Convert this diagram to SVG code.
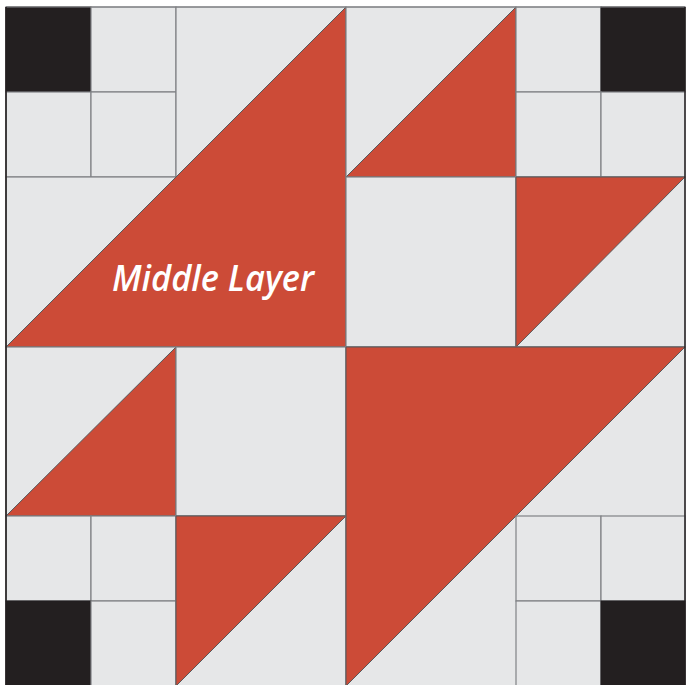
<svg xmlns="http://www.w3.org/2000/svg" width="686" height="685" viewBox="0 0 686 685">
<style>
.lt{fill:#e6e7e8;stroke:#808285;stroke-width:1.2}
.rd{fill:#cc4b37;stroke:#58595b;stroke-width:1}
.bk{fill:#231f20;stroke:#231f20;stroke-width:1}
.lbl{font-family:"Open Sans","DejaVu Sans",sans-serif;font-style:italic;font-weight:600;font-size:36px;fill:#ffffff}
</style>
<rect x="0" y="0" width="686" height="685" fill="#ffffff"/>
<g id="block-bg"><rect x="6" y="7" width="679" height="679" fill="#e6e7e8"/></g>
<g id="fourpatch-tl">
<rect class="bk" x="6" y="7" width="85" height="85"/>
<rect class="lt" x="91" y="7" width="85" height="85"/>
<rect class="lt" x="6" y="92" width="85" height="85"/>
<rect class="lt" x="91" y="92" width="85" height="85"/>
</g>
<g id="hst-top-left-light">
<rect class="lt" x="176" y="7" width="170" height="170"/>
<rect class="lt" x="6" y="177" width="170" height="170"/>
</g>
<g id="middle-layer">
<polygon class="rd" points="346,7 346,347 6,347"/>
<text class="lbl" x="112" y="291" textLength="202" lengthAdjust="spacingAndGlyphs">Middle Layer</text>
</g>
<g id="hst-top-right">
<rect class="lt" x="346" y="7" width="170" height="170"/>
<polygon class="rd" points="346,177 516,7 516,177"/>
</g>
<g id="fourpatch-tr">
<rect class="lt" x="516" y="7" width="85" height="85"/>
<rect class="bk" x="601" y="7" width="84" height="85"/>
<rect class="lt" x="516" y="92" width="85" height="85"/>
<rect class="lt" x="601" y="92" width="84" height="85"/>
</g>
<g id="square-center-right"><rect class="lt" x="346" y="177" width="170" height="170"/></g>
<g id="hst-right">
<rect class="lt" x="516" y="177" width="169" height="170"/>
<polygon class="rd" points="516,177 685,177 516,347"/>
</g>
<g id="hst-left">
<rect class="lt" x="6" y="347" width="170" height="169"/>
<polygon class="rd" points="6,516 176,347 176,516"/>
</g>
<g id="square-center-left"><rect class="lt" x="176" y="347" width="170" height="169"/></g>
<g id="fourpatch-bl">
<rect class="lt" x="6" y="516" width="85" height="85"/>
<rect class="lt" x="91" y="516" width="85" height="85"/>
<rect class="bk" x="6" y="601" width="85" height="85"/>
<rect class="lt" x="91" y="601" width="85" height="85"/>
</g>
<g id="hst-bottom">
<rect class="lt" x="176" y="516" width="170" height="170"/>
<polygon class="rd" points="176,516 346,516 176,686"/>
</g>
<g id="big-bottom-right">
<rect class="lt" x="346" y="347" width="339" height="339"/>
<polygon class="rd" points="346,347 685,347 346,686"/>
</g>
<g id="fourpatch-br">
<rect class="lt" x="516" y="516" width="85" height="85"/>
<rect class="lt" x="601" y="516" width="84" height="85"/>
<rect class="lt" x="516" y="601" width="85" height="85"/>
<rect class="bk" x="601" y="601" width="84" height="85"/>
</g>
<g id="connectors"/>
<g id="border">
<line x1="6" y1="7" x2="685" y2="7" stroke="#808285" stroke-width="1.2"/>
<line x1="6" y1="7" x2="6" y2="685" stroke="#231f20" stroke-width="1.6"/>
<line x1="685" y1="7" x2="685" y2="685" stroke="#231f20" stroke-width="1.4"/>
</g>
</svg>
